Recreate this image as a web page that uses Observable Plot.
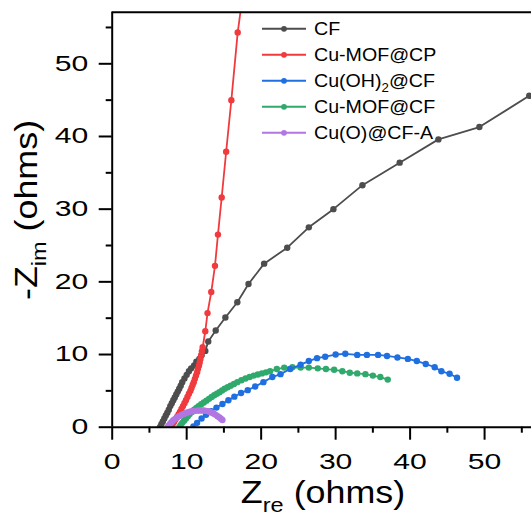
<!DOCTYPE html>
<html><head><meta charset="utf-8">
<script src="https://cdn.jsdelivr.net/npm/d3@7"></script>
<script src="https://cdn.jsdelivr.net/npm/@observablehq/plot@0.6"></script>
<style>
body{margin:0;background:#fff;}
#chart{width:531px;height:515px;overflow:hidden;}
svg text, svg tspan{white-space:pre;}
</style></head><body><div id="chart"></div>
<script>
const FONT = "'Liberation Sans', Arial, Helvetica, sans-serif";

// Series (legend order)
const seriesNames = ["CF", "Cu-MOF@CP", "Cu(OH)2@CF", "Cu-MOF@CF", "Cu(O)@CF-A"];
const seriesColors = ["#4d4d4d", "#f03a3d", "#1f6fe0", "#2fa96c", "#b276e2"];
// legend labels as [text, isSubscript] parts
const legendParts = [
  [["CF", false]],
  [["Cu-MOF@CP", false]],
  [["Cu(OH)", false], ["2", true], ["@CF", false]],
  [["Cu-MOF@CF", false]],
  [["Cu(O)@CF-A", false]]
];

const cfX = [6.4, 6.6, 6.8, 7.0, 7.2, 7.4, 7.6, 7.8, 8.0, 8.2, 8.4, 8.6, 8.8, 9.0, 9.2, 9.4, 9.7, 10.0, 10.3, 10.6, 11.0, 11.3, 11.7, 12.0, 12.5, 12.9, 13.9, 15.2, 16.8, 18.3, 20.4, 23.5, 26.4, 29.7, 33.6, 38.6, 43.8, 49.3, 56.0, 60.5];
const cfY = [0.0, 0.4, 0.8, 1.2, 1.6, 2.0, 2.4, 2.9, 3.3, 3.7, 4.1, 4.5, 4.9, 5.3, 5.7, 6.2, 6.7, 7.2, 7.7, 8.1, 8.5, 9.0, 9.4, 9.9, 10.5, 11.8, 13.3, 15.1, 17.2, 19.7, 22.5, 24.7, 27.5, 30.0, 33.3, 36.4, 39.6, 41.3, 45.6, 48.6];

const mofCpX = [7.9, 8.1, 8.3, 8.5, 8.7, 8.9, 9.1, 9.3, 9.5, 9.7, 9.9, 10.1, 10.3, 10.5, 10.65, 10.8, 10.95, 11.1, 11.25, 11.4, 11.5, 11.65, 11.75, 11.85, 11.95, 12.05, 12.15, 12.5, 12.8, 13.3, 13.8, 14.2, 14.7, 15.3, 16.0, 16.85, 17.7];
const mofCpY = [0.0, 0.35, 0.7, 1.05, 1.4, 1.75, 2.1, 2.5, 2.9, 3.3, 3.7, 4.15, 4.6, 5.0, 5.4, 5.8, 6.2, 6.65, 7.1, 7.55, 8.0, 8.45, 8.9, 9.4, 9.9, 10.45, 11.0, 13.2, 15.7, 18.6, 22.2, 26.5, 31.6, 37.9, 45.0, 54.3, 60.8];

const ohX = [10.9, 11.4, 12.0, 12.6, 13.3, 14.0, 14.8, 15.6, 16.4, 17.3, 18.2, 19.2, 20.3, 21.5, 22.6, 23.9, 25.3, 26.4, 27.5, 28.6, 30.0, 31.3, 32.9, 34.2, 35.7, 36.9, 38.3, 39.7, 40.9, 42.1, 43.3, 44.2, 45.3, 46.3];
const ohY = [0.1, 0.6, 1.2, 1.7, 2.2, 2.7, 3.2, 3.7, 4.2, 4.7, 5.1, 5.6, 6.2, 6.9, 7.3, 8.0, 8.6, 9.1, 9.5, 9.7, 10.0, 10.1, 9.95, 9.95, 9.95, 9.8, 9.6, 9.4, 9.1, 8.7, 8.25, 7.7, 7.35, 6.8];

const mofCfX = [9.0, 9.2, 9.4, 9.65, 9.9, 10.15, 10.4, 10.7, 11.0, 11.3, 11.6, 11.95, 12.3, 12.65, 13.0, 13.35, 13.7, 14.05, 14.4, 14.75, 15.1, 15.5, 15.9, 16.35, 16.8, 17.35, 17.9, 18.45, 19.0, 19.55, 20.1, 20.65, 21.2, 22.1, 23.1, 24.2, 25.3, 26.4, 27.6, 28.7, 29.8, 30.9, 31.9, 32.9, 34.0, 35.0, 36.0, 37.0];
const mofCfY = [0.0, 0.3, 0.6, 0.9, 1.2, 1.5, 1.8, 2.1, 2.4, 2.65, 2.9, 3.15, 3.4, 3.65, 3.9, 4.15, 4.4, 4.6, 4.8, 5.05, 5.3, 5.5, 5.7, 5.95, 6.2, 6.45, 6.7, 6.9, 7.1, 7.25, 7.4, 7.55, 7.7, 8.0, 8.2, 8.25, 8.2, 8.2, 8.1, 8.0, 7.9, 7.7, 7.5, 7.4, 7.3, 7.1, 6.9, 6.55];

const cuoX = [7.4, 7.6, 7.8, 8.0, 8.2, 8.45, 8.7, 9.0, 9.3, 9.6, 9.9, 10.2, 10.5, 10.8, 11.1, 11.4, 11.7, 12.0, 12.3, 12.6, 12.9, 13.15, 13.4, 13.65, 13.9, 14.15, 14.4, 14.6, 14.8];
const cuoY = [0.0, 0.25, 0.5, 0.72, 0.95, 1.15, 1.35, 1.52, 1.7, 1.83, 1.95, 2.05, 2.15, 2.2, 2.25, 2.28, 2.3, 2.3, 2.3, 2.25, 2.2, 2.1, 2.0, 1.85, 1.7, 1.52, 1.35, 1.17, 1.0];

const seriesX = [cfX, mofCpX, ohX, mofCfX, cuoX];
const seriesY = [cfY, mofCpY, ohY, mofCfY, cuoY];
const drawOrder = [0, 1, 3, 2, 4];

const xMajorTicks = [0, 10, 20, 30, 40, 50];
const xMinorTicks = [5, 15, 25, 35, 45, 55];
const yMajorTicks = [0, 10, 20, 30, 40, 50];
const yMinorTicks = [5, 15, 25, 35, 45, 55];
const xDomain = [0, 56.3];
const yDomain = [0, 57.1];

const tables = seriesNames.map((name, i) => seriesX[i].map((x, j) => ({series: name, x, y: seriesY[i][j]})));

const dataMarks = [];
for (const i of drawOrder) {
  dataMarks.push(Plot.line(tables[i], {x: "x", y: "y", stroke: seriesColors[i], strokeWidth: 1.8, clip: true}));
  dataMarks.push(Plot.dot(tables[i], {x: "x", y: "y", r: 3.2, fill: seriesColors[i], stroke: "none", clip: true}));
}

const svg = Plot.plot({
  width: 531, height: 515,
  marginLeft: 111.7, marginRight: 0, marginTop: 11.7, marginBottom: 88.3,
  style: {fontFamily: FONT, color: "#000", background: "#fff"},
  x: {domain: xDomain, label: null},
  y: {domain: yDomain, label: null},
  marks: [
    ...dataMarks,
    Plot.ruleX([xDomain[0]], {stroke: "#000", strokeWidth: 2}),
    Plot.ruleY([yDomain[0]], {stroke: "#000", strokeWidth: 2}),
    Plot.ruleY([yDomain[1]], {stroke: "#000", strokeWidth: 2}),
    Plot.axisX({ticks: xMajorTicks, anchor: "bottom", tickSize: 13, tickPadding: 14, fontSize: 21.5, strokeWidth: 2, label: null, tickFormat: d => String(d)}),
    Plot.axisX({ticks: xMinorTicks, anchor: "bottom", tickSize: 6, strokeWidth: 2, label: null, tickFormat: () => ""}),
    Plot.axisY({ticks: yMajorTicks, anchor: "left", tickSize: 13, tickPadding: 11, fontSize: 21.5, strokeWidth: 2, label: null, tickFormat: d => String(d)}),
    Plot.axisY({ticks: yMinorTicks, anchor: "left", tickSize: 6, strokeWidth: 2, label: null, tickFormat: () => ""})
  ]
});
document.getElementById("chart").append(svg);

// widen tick labels like the reference's stretched glyphs
svg.querySelectorAll("text").forEach(t => {
  const L = t.getComputedTextLength();
  if (L > 0) { t.setAttribute("textLength", (L * 1.4).toFixed(1)); t.setAttribute("lengthAdjust", "spacingAndGlyphs"); }
});

const s = d3.select(svg);
function stretch(node, f) {
  const L = node.getComputedTextLength();
  node.setAttribute("textLength", (L * f).toFixed(1));
  node.setAttribute("lengthAdjust", "spacingAndGlyphs");
}

// x title
const xt = s.append("text").attr("x", 323).attr("y", 503).attr("text-anchor", "middle")
  .attr("font-family", FONT).attr("font-size", 32).attr("fill", "#000");
xt.append("tspan").text("Z");
xt.append("tspan").attr("font-size", 21).attr("dy", 9).text("re");
xt.append("tspan").attr("dy", -9).text(" (ohms)");
stretch(xt.node(), 1.12);

// y title
const yt = s.append("text").attr("transform", "translate(37,210) rotate(-90)").attr("text-anchor", "middle")
  .attr("font-family", FONT).attr("font-size", 32).attr("fill", "#000");
yt.append("tspan").text("-Z");
yt.append("tspan").attr("font-size", 21).attr("dy", 9).text("im");
yt.append("tspan").attr("dy", -9).text(" (ohms)");
stretch(yt.node(), 1.12);

// legend
const lg = s.append("g").attr("text-anchor", "start");
seriesNames.forEach((name, i) => {
  const yy = 28.8 + i * 26;
  lg.append("line").attr("x1", 262).attr("x2", 306).attr("y1", yy).attr("y2", yy)
    .attr("stroke", seriesColors[i]).attr("stroke-width", 2);
  lg.append("circle").attr("cx", 284).attr("cy", yy).attr("r", 2.9).attr("fill", seriesColors[i]);
  const t = lg.append("text").attr("x", 314).attr("y", yy + 6.3).attr("text-anchor", "start")
    .attr("font-family", FONT).attr("font-size", 18.5).attr("fill", "#000");
  let shifted = false;
  legendParts[i].forEach(([txt, sub]) => {
    const ts = t.append("tspan").text(txt);
    if (sub) { ts.attr("font-size", 12.5).attr("dy", 5); shifted = true; }
    else if (shifted) { ts.attr("dy", -5); shifted = false; }
  });
  stretch(t.node(), 1.06);
});
</script></body></html>
